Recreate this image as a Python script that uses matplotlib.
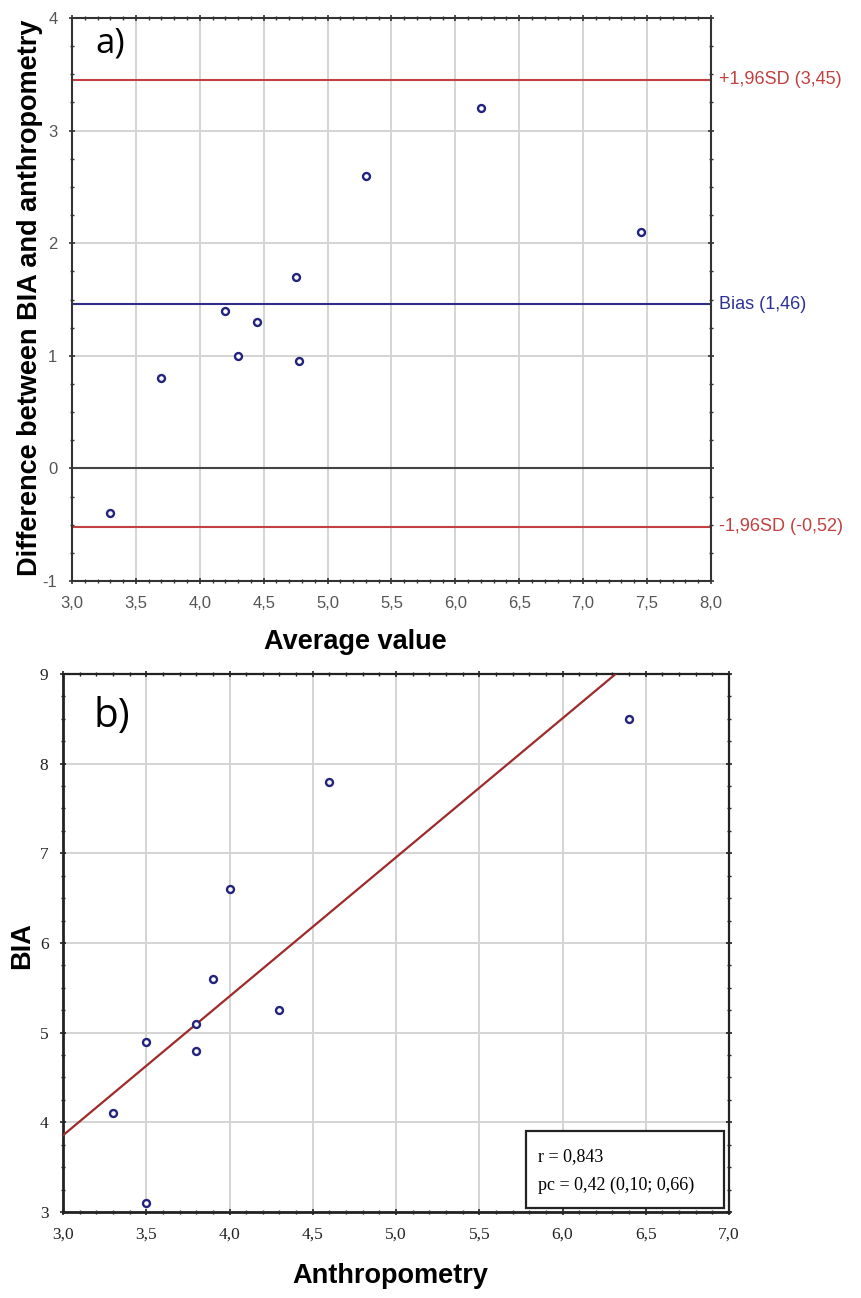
import matplotlib
matplotlib.use("Agg")
import matplotlib.pyplot as plt
from matplotlib.patches import Rectangle
from matplotlib.ticker import MultipleLocator, FuncFormatter
import numpy as np

# a) Bland-Altman
avg_val = [3.30, 3.70, 4.20, 4.30, 4.45, 4.75, 4.775, 5.30, 6.20, 7.45]
diff_val = [-0.40, 0.80, 1.40, 1.00, 1.30, 1.70, 0.95, 2.60, 3.20, 2.10]
bias = 1.46
upper_sd = 3.45
lower_sd = -0.52

# b) correlation
anthro = [3.3, 3.5, 3.5, 3.8, 3.8, 3.9, 4.0, 4.3, 4.6, 6.4]
bia = [4.1, 4.9, 3.1, 5.1, 4.8, 5.6, 6.6, 5.25, 7.8, 8.5]
r_text = "r = 0,843"
pc_text = "pc = 0,42 (0,10; 0,66)"

navy = "#23237e"
red = "#c2403f"
dark_red = "#9e2a2b"

def comma(v, pos):
    return ("%.1f" % v).replace(".", ",")

def comma_int(v, pos):
    return "%d" % round(v)

fig = plt.figure(figsize=(8.61, 12.98), dpi=100)

# ---------- top panel ----------
ax1 = fig.add_axes([0.0836, 0.5524, 0.742, 0.4337])
ax1.set_xlim(3, 8)
ax1.set_ylim(-1, 4)
ax1.xaxis.set_major_locator(MultipleLocator(0.5))
ax1.xaxis.set_minor_locator(MultipleLocator(0.1))
ax1.yaxis.set_major_locator(MultipleLocator(1))
ax1.yaxis.set_minor_locator(MultipleLocator(0.25))
ax1.xaxis.set_major_formatter(FuncFormatter(comma))
ax1.yaxis.set_major_formatter(FuncFormatter(comma_int))
ax1.grid(True, which="major", color="#d4d4d4", lw=1.4)
ax1.set_axisbelow(True)

ax1.axhline(upper_sd, color=red, lw=1.5)
ax1.axhline(bias, color="#2e2e86", lw=1.5)
ax1.axhline(0, color="#444444", lw=1.5)
ax1.axhline(lower_sd, color=red, lw=1.5)
ax1.plot(avg_val, diff_val, "o", ms=5, mfc="white", mec=navy, mew=1.7, zorder=5)

ytr = ax1.get_yaxis_transform()
ax1.text(1.013, upper_sd, "+1,96SD (3,45)", transform=ytr, color=red,
         fontsize=13, va="center", ha="left", family="Liberation Sans")
ax1.text(1.013, bias, "Bias (1,46)", transform=ytr, color="#2e3192",
         fontsize=13, va="center", ha="left", family="Liberation Sans")
ax1.text(1.013, lower_sd, "-1,96SD (-0,52)", transform=ytr, color=red,
         fontsize=13, va="center", ha="left", family="Liberation Sans")
ax1.text(0.037, 0.955, "a)", transform=ax1.transAxes, fontsize=25,
         va="center", ha="left", family="Open Sans")

for s in ax1.spines.values():
    s.set_color("#333333")
    s.set_linewidth(1.5)
ax1.tick_params(which="both", direction="inout", top=True, right=True,
                color="#333333")
ax1.tick_params(which="major", length=5, width=1.2, labelsize=12,
                labelcolor="#555555", pad=8)
ax1.tick_params(which="minor", length=3, width=1)
for lab in ax1.get_xticklabels() + ax1.get_yticklabels():
    lab.set_family("Liberation Sans")

ax1.set_xlabel("Average value", fontsize=19.5, fontweight="bold",
               family="Liberation Sans")
ax1.set_ylabel("Difference between BIA and anthropometry", fontsize=19.5,
               fontweight="bold", family="Liberation Sans")
ax1.xaxis.set_label_coords(0.443, -0.085)
ax1.yaxis.set_label_coords(-0.046, 0.504)

# ---------- bottom panel ----------
ax2 = fig.add_axes([0.0732, 0.0663, 0.7735, 0.4145])
ax2.set_xlim(3, 7)
ax2.set_ylim(3, 9)
ax2.xaxis.set_major_locator(MultipleLocator(0.5))
ax2.xaxis.set_minor_locator(MultipleLocator(0.1))
ax2.yaxis.set_major_locator(MultipleLocator(1))
ax2.yaxis.set_minor_locator(MultipleLocator(0.25))
ax2.xaxis.set_major_formatter(FuncFormatter(comma))
ax2.yaxis.set_major_formatter(FuncFormatter(comma_int))
ax2.grid(True, which="major", color="#d4d4d4", lw=1.4)
ax2.set_axisbelow(True)

slope, intercept = np.polyfit(anthro, bia, 1)
xs = np.array([3.0, 7.0])
ax2.plot(xs, slope * xs + intercept, color=dark_red, lw=1.6, zorder=3)
ax2.plot(anthro, bia, "o", ms=5, mfc="white", mec=navy, mew=1.7, zorder=5,
         clip_on=False)

ax2.add_patch(Rectangle((0.695, 0.008), 0.297, 0.142, transform=ax2.transAxes,
                        fc="white", ec="#222222", lw=1.6, zorder=6))
ax2.text(0.713, 0.102, r_text, transform=ax2.transAxes, fontsize=13,
         va="center", ha="left", family="Liberation Serif", zorder=7)
ax2.text(0.713, 0.050, pc_text, transform=ax2.transAxes, fontsize=13,
         va="center", ha="left", family="Liberation Serif", zorder=7)
ax2.text(0.046, 0.92, "b)", transform=ax2.transAxes, fontsize=29,
         va="center", ha="left", family="Open Sans")

for side, s in ax2.spines.items():
    s.set_color("#222222")
    s.set_linewidth(2.0 if side in ("left", "bottom") else 1.6)
ax2.tick_params(which="both", direction="inout", top=True, right=True,
                color="#222222")
ax2.tick_params(which="major", length=5, width=1.2, labelsize=12.5,
                labelcolor="#222222", pad=8)
ax2.tick_params(which="minor", length=3, width=1)
for lab in ax2.get_xticklabels() + ax2.get_yticklabels():
    lab.set_family("Liberation Serif")

ax2.set_xlabel("Anthropometry", fontsize=19.5, fontweight="bold",
               family="Liberation Sans")
ax2.set_ylabel("BIA", fontsize=19.5, fontweight="bold",
               family="Liberation Sans")
ax2.xaxis.set_label_coords(0.491, -0.095)
ax2.yaxis.set_label_coords(-0.042, 0.496)

fig.savefig("out.png", dpi=100)
